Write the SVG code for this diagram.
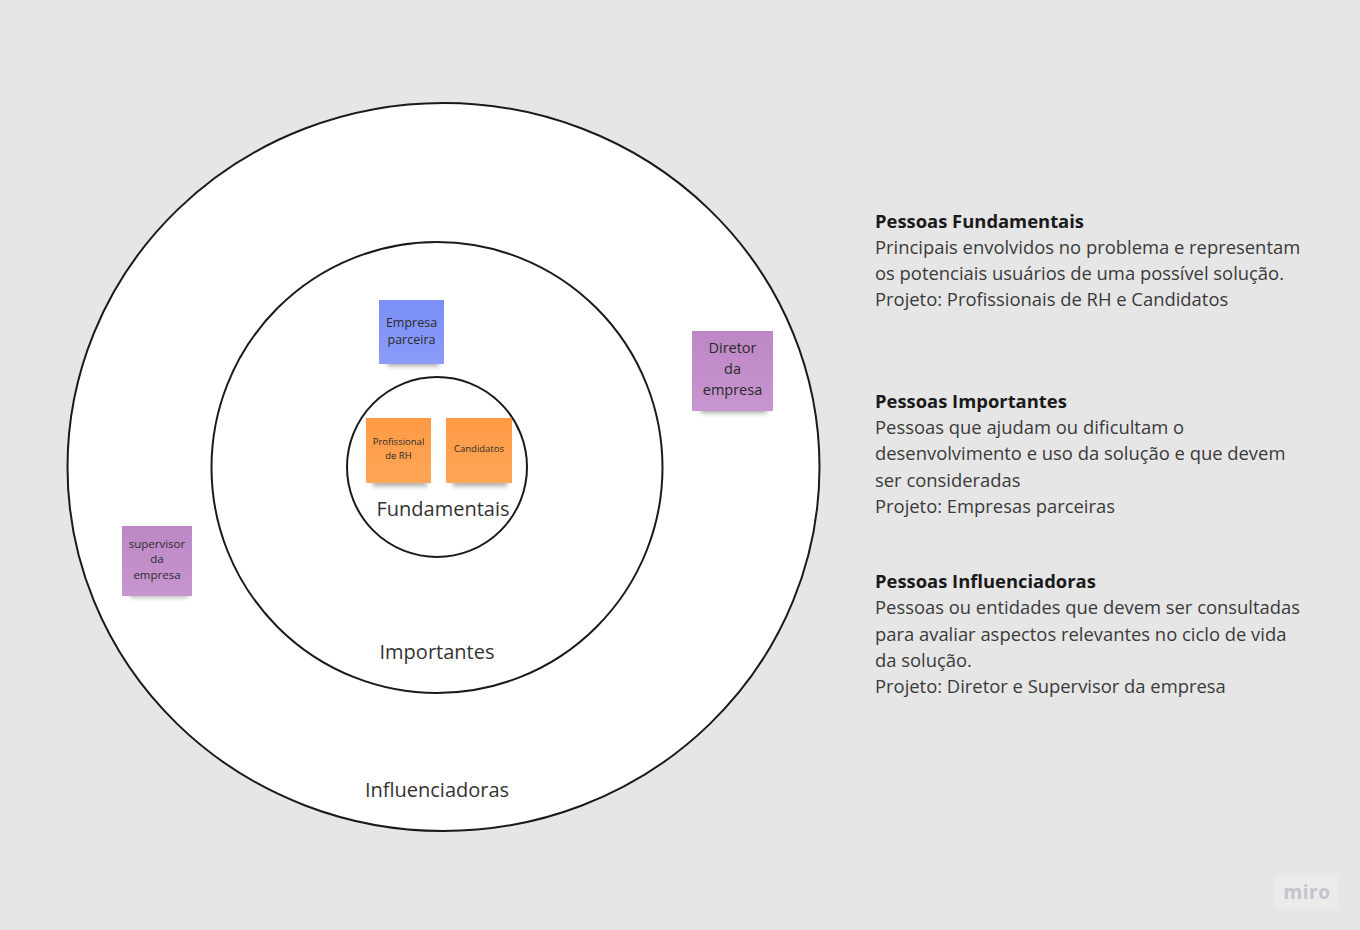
<svg xmlns="http://www.w3.org/2000/svg" width="1360" height="930" viewBox="0 0 1360 930">
  <defs>
    <filter id="sh" x="-30%" y="-60%" width="160%" height="260%">
      <feGaussianBlur stdDeviation="2.5"/>
    </filter>
    <linearGradient id="gBlue" x1="0" y1="0" x2="0" y2="1">
      <stop offset="0" stop-color="#7a8ef6"/>
      <stop offset="1" stop-color="#8b9cf8"/>
    </linearGradient>
    <linearGradient id="gOrange" x1="0" y1="0" x2="0" y2="1">
      <stop offset="0" stop-color="#ff9a44"/>
      <stop offset="1" stop-color="#ffa658"/>
    </linearGradient>
    <linearGradient id="gPurple" x1="0" y1="0" x2="0" y2="1">
      <stop offset="0" stop-color="#bd87c6"/>
      <stop offset="1" stop-color="#c795cf"/>
    </linearGradient>
  </defs>
  <style>
    .ring { fill: #ffffff; stroke: #1a1a1a; stroke-width: 2; }
    .lbl { font-family: "Open Sans", "Noto Sans", sans-serif; fill: #333333; text-anchor: middle; font-size: 20px; }
    .note { font-family: "Open Sans", "Noto Sans", sans-serif; fill: #2b2b2b; text-anchor: middle; }
    .shadow { fill: #000000; opacity: 0.35; filter: url(#sh); }
    .side { font-family: "Open Sans", "Noto Sans", sans-serif; font-size: 18.4px; fill: #3a3a3a; }
    .side .h { font-weight: bold; fill: #1a1a1a; }
  </style>
  <rect width="1360" height="930" fill="#e6e6e6"/>

  <g id="ring-influenciadoras">
    <ellipse class="ring" cx="443.5" cy="467" rx="376" ry="364"/>
    <text class="lbl" x="437" y="797">Influenciadoras</text>
  </g>
  <g id="ring-importantes">
    <circle class="ring" cx="437" cy="467.5" r="225.5"/>
    <text class="lbl" x="437" y="659">Importantes</text>
  </g>
  <g id="ring-fundamentais">
    <circle class="ring" cx="437" cy="467" r="90"/>
    <text class="lbl" x="443" y="516">Fundamentais</text>
  </g>

  <g id="note-empresa-parceira">
    <rect class="shadow" x="387" y="359" width="52" height="7"/>
    <rect x="379" y="300" width="65" height="64" fill="url(#gBlue)"/>
    <text class="note" x="411.5" y="327" font-size="12.5">Empresa</text>
    <text class="note" x="411.5" y="344" font-size="12.5">parceira</text>
  </g>

  <g id="note-profissional-rh">
    <rect class="shadow" x="373" y="479" width="54" height="7"/>
    <rect x="366" y="418" width="65" height="65" fill="url(#gOrange)"/>
    <text class="note" x="398.5" y="445" font-size="9.5">Profissional</text>
    <text class="note" x="398.5" y="459" font-size="9.5">de RH</text>
  </g>

  <g id="note-candidatos">
    <rect class="shadow" x="453" y="479" width="54" height="7"/>
    <rect x="446" y="418" width="66" height="65" fill="url(#gOrange)"/>
    <text class="note" x="479" y="452" font-size="9.5">Candidatos</text>
  </g>

  <g id="note-diretor">
    <rect class="shadow" x="701" y="405" width="66" height="8"/>
    <rect x="692" y="331" width="81" height="80" fill="url(#gPurple)"/>
    <text class="note" x="732.5" y="353" font-size="14.5">Diretor</text>
    <text class="note" x="732.5" y="374" font-size="14.5">da</text>
    <text class="note" x="732.5" y="395" font-size="14.5">empresa</text>
  </g>

  <g id="note-supervisor">
    <rect class="shadow" x="130" y="590" width="58" height="7"/>
    <rect x="122" y="526" width="70" height="70" fill="url(#gPurple)"/>
    <text class="note" x="157" y="548" font-size="11.5">supervisor</text>
    <text class="note" x="157" y="563" font-size="11.5">da</text>
    <text class="note" x="157" y="579" font-size="11.5">empresa</text>
  </g>

  <g id="text-fundamentais" class="side">
    <text class="h" x="875" y="228">Pessoas Fundamentais</text>
    <text x="875" y="254">Principais envolvidos no problema e representam</text>
    <text x="875" y="280">os potenciais usuários de uma possível solução.</text>
    <text x="875" y="306">Projeto: Profissionais de RH e Candidatos</text>
  </g>

  <g id="text-importantes" class="side">
    <text class="h" x="875" y="408">Pessoas Importantes</text>
    <text x="875" y="434">Pessoas que ajudam ou dificultam o</text>
    <text x="875" y="460">desenvolvimento e uso da solução e que devem</text>
    <text x="875" y="487">ser consideradas</text>
    <text x="875" y="513">Projeto: Empresas parceiras</text>
  </g>

  <g id="text-influenciadoras" class="side">
    <text class="h" x="875" y="588">Pessoas Influenciadoras</text>
    <text x="875" y="614">Pessoas ou entidades que devem ser consultadas</text>
    <text x="875" y="641">para avaliar aspectos relevantes no ciclo de vida</text>
    <text x="875" y="667">da solução.</text>
    <text x="875" y="693">Projeto: Diretor e Supervisor da empresa</text>
  </g>

  <g id="connectors"></g>

  <g id="miro-logo">
    <rect x="1275" y="875" width="64" height="34" rx="4" fill="#ebebeb"/>
    <text x="1307" y="899" font-family="Open Sans, Noto Sans, sans-serif" font-size="19" font-weight="bold" fill="#c4c4cc" text-anchor="middle" letter-spacing="0.5">miro</text>
  </g>
</svg>
